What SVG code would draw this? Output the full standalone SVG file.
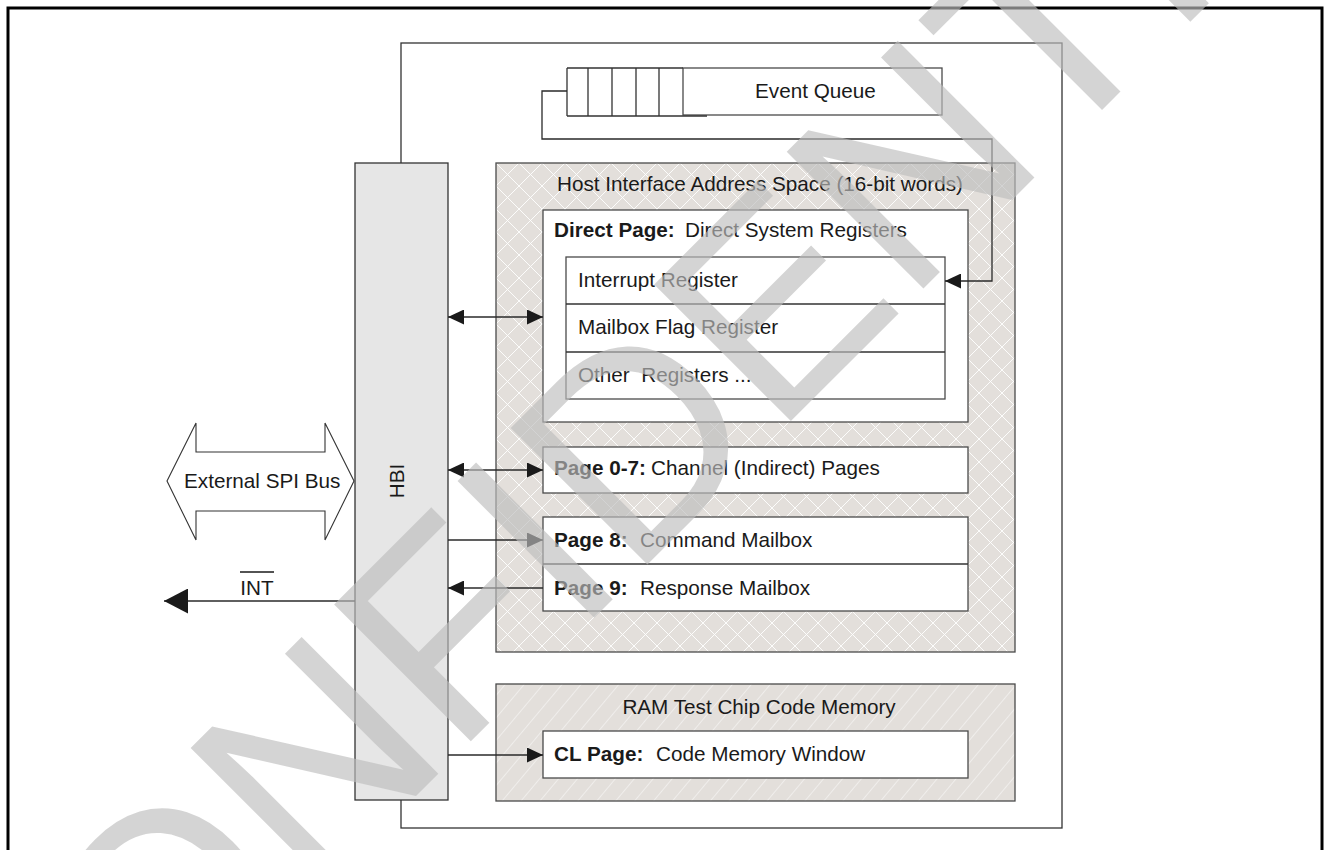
<svg xmlns="http://www.w3.org/2000/svg" width="1331" height="850" viewBox="0 0 1331 850">
  <style>
    text { font-family: "Liberation Sans", Arial, sans-serif; font-size: 20.7px; fill: #1a1a1a; white-space: pre; }
    .b { font-weight: bold; }
    .box { fill: #ffffff; stroke: #4a4a4a; stroke-width: 1.3; }
    .edge { fill: none; stroke: #333333; stroke-width: 1.3; }
    .wire { fill: none; stroke: #2a2a2a; stroke-width: 1.3; }
    .wm { font-size: 281px; fill: #bdbdbd; fill-opacity: 0.65; }
  </style>
  <defs>
    <pattern id="xhatch" width="23" height="23" patternUnits="userSpaceOnUse" x="496" y="163">
      <rect width="23" height="23" fill="#e3dfdb"/>
      <path d="M0,0 L23,23 M23,0 L0,23" stroke="#ffffff" stroke-width="0.9"/>
    </pattern>
    <pattern id="fhatch" width="14.5" height="20" patternUnits="userSpaceOnUse" patternTransform="rotate(40)">
      <rect width="14.5" height="20" fill="#e3dfdb"/>
      <path d="M0,0 L0,20" stroke="#ffffff" stroke-width="0.9"/>
    </pattern>
    <marker id="ah" viewBox="0 0 16 16" refX="16" refY="8" markerWidth="16" markerHeight="15" markerUnits="userSpaceOnUse" orient="auto-start-reverse" preserveAspectRatio="none">
      <path d="M0,0 L16,8 L0,16 z" fill="#1a1a1a"/>
    </marker>
    <marker id="ahBig" viewBox="0 0 24 24" refX="24" refY="12" markerWidth="24" markerHeight="25" markerUnits="userSpaceOnUse" orient="auto-start-reverse" preserveAspectRatio="none">
      <path d="M0,0 L24,12 L0,24 z" fill="#1a1a1a"/>
    </marker>
  </defs>

  <rect width="1331" height="850" fill="#ffffff"/>

  <!-- page frame -->
  <rect x="8" y="8" width="1314" height="900" fill="none" stroke="#000000" stroke-width="3"/>

  <!-- chip outline -->
  <g id="chip">
    <rect x="401" y="43" width="661" height="785" fill="#ffffff" stroke="#333333" stroke-width="1.3"/>
  </g>

  <!-- event queue -->
  <g id="event-queue">
    <rect x="683" y="68" width="259" height="47" class="box"/>
    <path d="M567,68 H683 M567,68 V116 M588,68 V116 M612,68 V116 M636,68 V116 M659,68 V116 M567,116 H707" class="edge"/>
    <text x="755" y="98">Event Queue</text>
  </g>

  <!-- host interface address space -->
  <g id="host-space">
    <rect x="496" y="163" width="519" height="489" fill="url(#xhatch)" stroke="#4a4a4a" stroke-width="1.3"/>
    <text x="557" y="191">Host Interface Address Space (16-bit words)</text>
  </g>

  <g id="direct-page">
    <rect x="543" y="210" width="425" height="212" class="box"/>
    <text x="554" y="237" class="b">Direct Page:</text>
    <text x="685" y="237">Direct System Registers</text>
  </g>

  <g id="registers">
    <rect x="566" y="257" width="379" height="142" class="box"/>
    <path d="M566,304 H945 M566,352 H945" class="edge"/>
    <text x="578" y="287">Interrupt Register</text>
    <text x="578" y="334">Mailbox Flag Register</text>
    <text x="578" y="382">Other  Registers ...</text>
  </g>

  <g id="channel-pages">
    <rect x="543" y="447" width="425" height="46" class="box"/>
    <text x="554" y="475" class="b">Page 0-7:</text>
    <text x="651" y="475">Channel (Indirect) Pages</text>
  </g>

  <g id="mailboxes">
    <rect x="543" y="517" width="425" height="94" class="box"/>
    <path d="M543,564 H968" class="edge"/>
    <text x="554" y="547" class="b">Page 8:</text>
    <text x="640" y="547">Command Mailbox</text>
    <text x="554" y="595" class="b">Page 9:</text>
    <text x="640" y="595">Response Mailbox</text>
  </g>

  <!-- code memory -->
  <g id="code-memory">
    <rect x="496" y="684" width="519" height="117" fill="url(#fhatch)" stroke="#4a4a4a" stroke-width="1.3"/>
    <text x="759" y="714" text-anchor="middle">RAM Test Chip Code Memory</text>
  </g>

  <g id="cl-page">
    <rect x="543" y="731" width="425" height="47" class="box"/>
    <text x="554" y="761" class="b">CL Page:</text>
    <text x="656" y="761">Code Memory Window</text>
  </g>

  <!-- host bus interface -->
  <g id="hbi">
    <rect x="355" y="163" width="93" height="637" fill="#e6e6e6" stroke="#333333" stroke-width="1.3"/>
    <text transform="translate(404,481) rotate(-90)" text-anchor="middle">HBI</text>
  </g>

  <!-- external bus -->
  <g id="spi-bus">
    <path d="M167,481 L196,423 V452 H325 V423 L354,481 L325,540 V511 H196 V540 Z" fill="#ffffff" stroke="#333333" stroke-width="1.1"/>
    <text x="184" y="488">External SPI Bus</text>
  </g>

  <g id="int-label">
    <text x="257" y="595" text-anchor="middle">INT</text>
    <line x1="240" y1="572" x2="274" y2="572" stroke="#1a1a1a" stroke-width="1.3"/>
  </g>

  <!-- connectors -->
  <g id="connectors">
    <path d="M567,91 H542 V139 H992 V281 H945" class="wire" marker-end="url(#ah)"/>
    <path d="M448,317 H543" class="wire" marker-start="url(#ah)" marker-end="url(#ah)"/>
    <path d="M448,470 H543" class="wire" marker-start="url(#ah)" marker-end="url(#ah)"/>
    <path d="M448,540 H543" class="wire" marker-end="url(#ah)"/>
    <path d="M543,588 H448" class="wire" marker-end="url(#ah)"/>
    <path d="M448,755 H543" class="wire" marker-end="url(#ah)"/>
    <path d="M355,601 H164" class="wire" marker-end="url(#ahBig)"/>
  </g>

  <!-- document watermark, runs off the page on both ends -->
  <g id="watermark">
    <text class="wm" transform="translate(13,1199) rotate(-45)">CONFIDENTIAL</text>
  </g>
</svg>
